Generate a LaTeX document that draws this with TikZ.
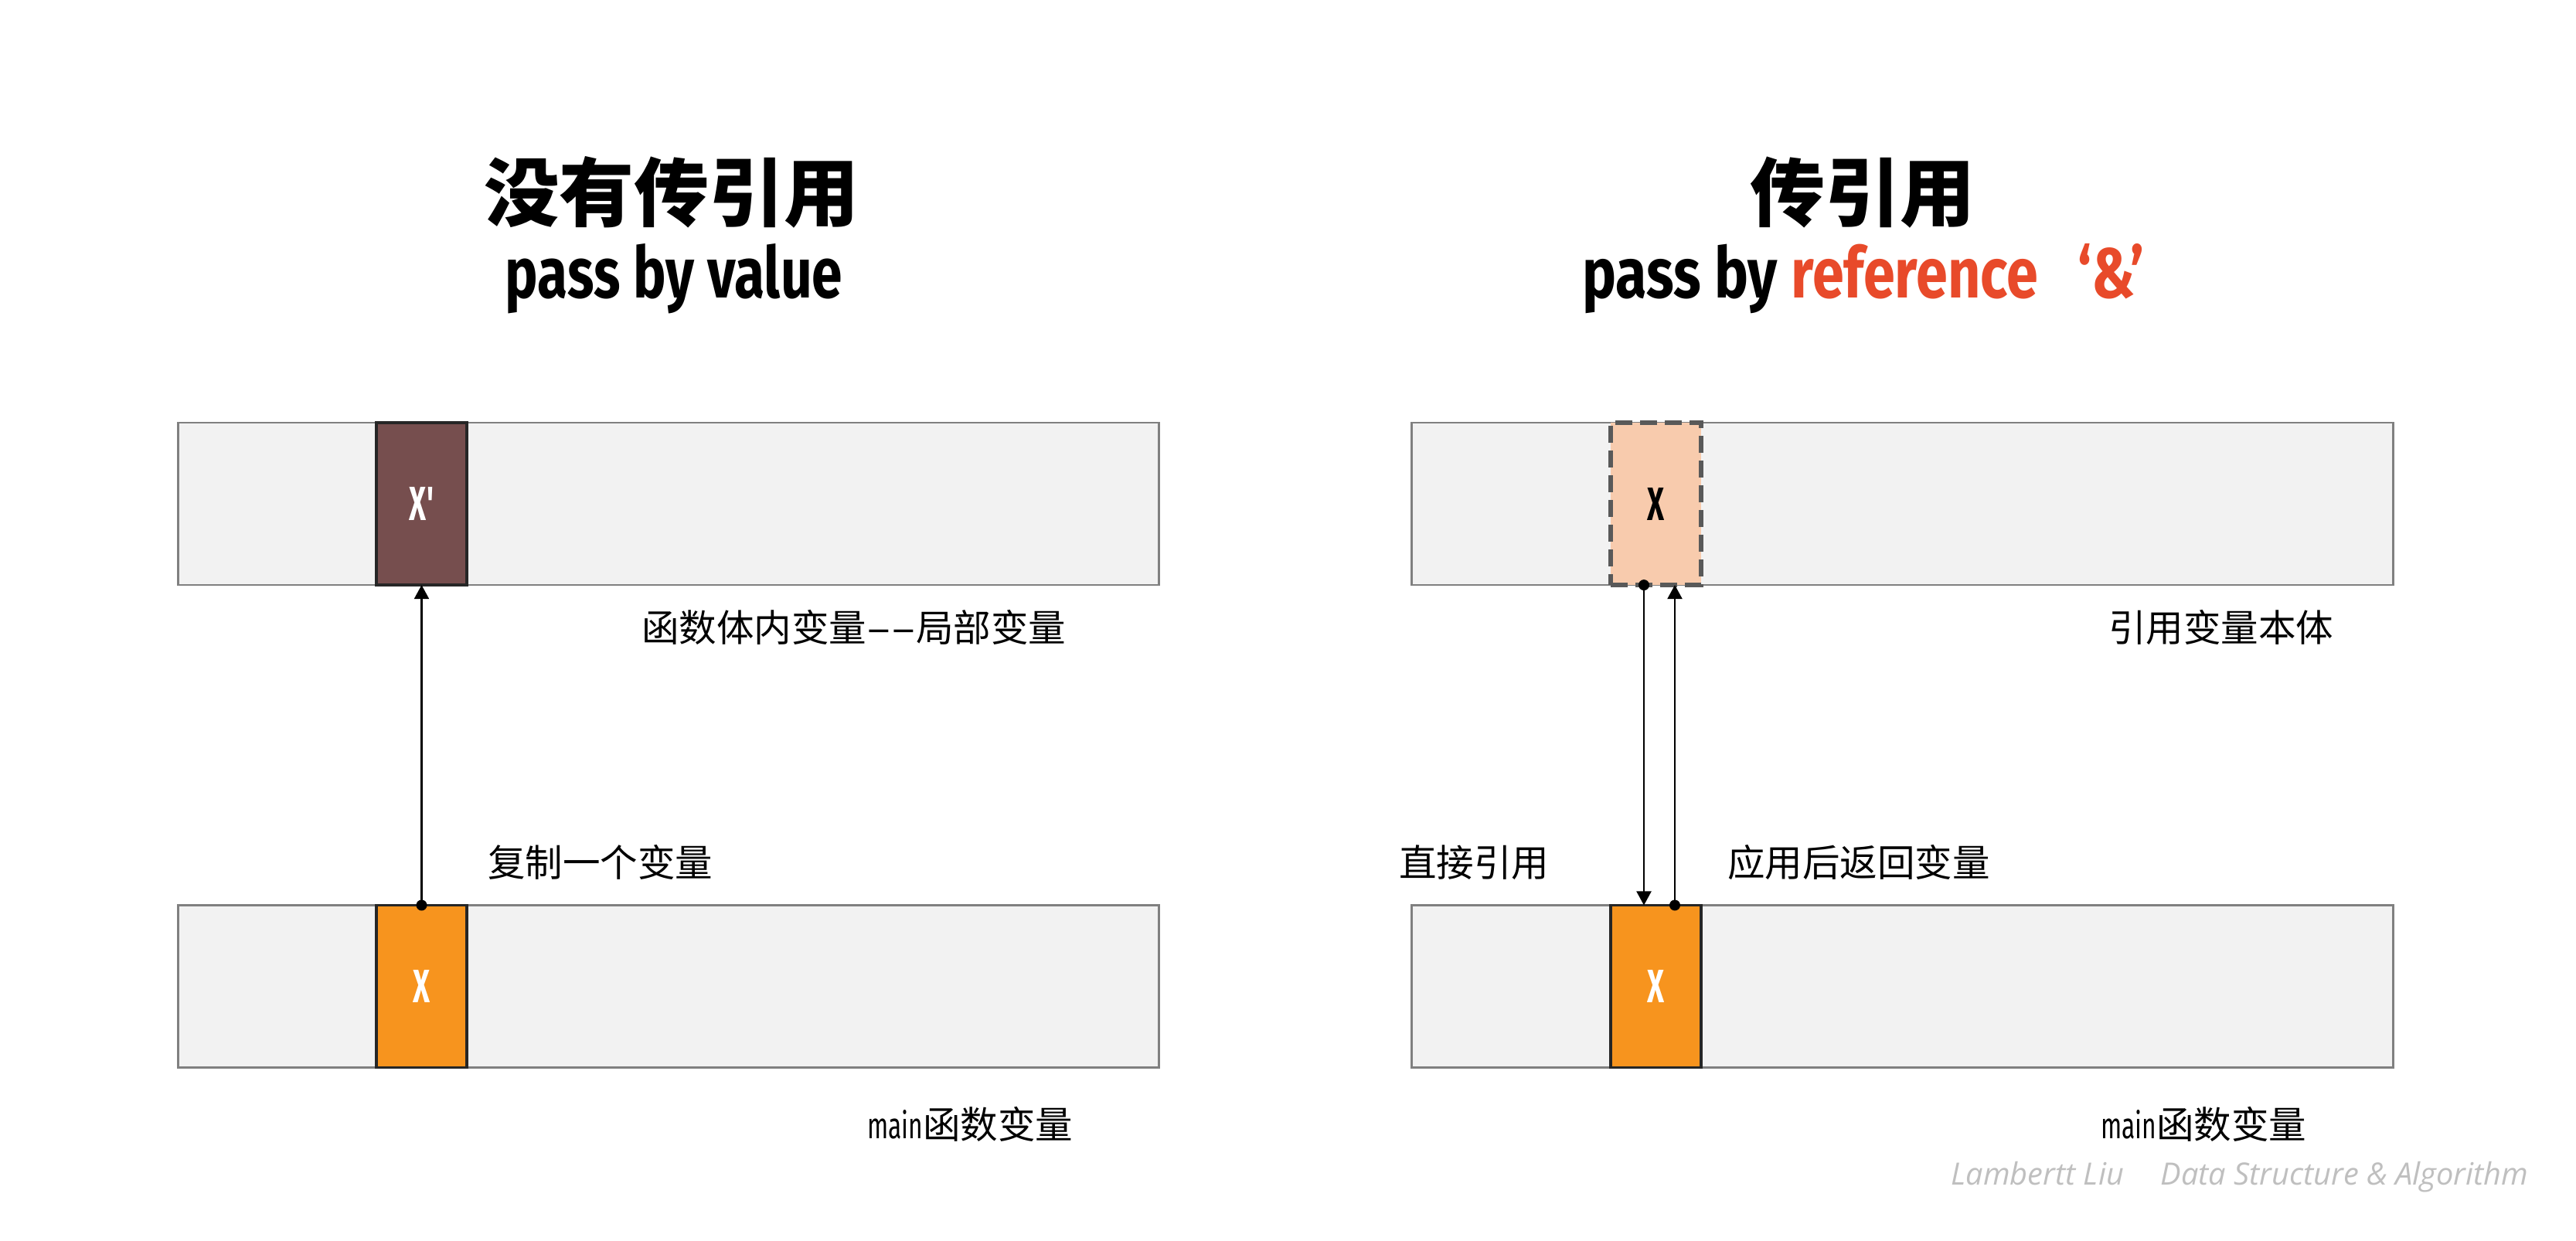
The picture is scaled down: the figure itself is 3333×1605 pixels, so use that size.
\documentclass[tikz,border=0pt]{standalone}
\usepackage{fontspec}
\usepackage{graphicx}
\usetikzlibrary{arrows.meta,calc}
\newfontfamily\cjk{Noto Sans CJK SC}
\newfontfamily\cond{Fira Sans}
\newfontfamily\wmfont{Open Sans}
\definecolor{barfill}{HTML}{F2F2F2}
\definecolor{barline}{HTML}{808080}
\definecolor{boxline}{HTML}{262626}
\definecolor{brownbox}{HTML}{764E4E}
\definecolor{orangebox}{HTML}{F7941E}
\definecolor{peachbox}{HTML}{F8CBAD}
\definecolor{dashgray}{HTML}{595959}
\definecolor{refred}{HTML}{E84A2A}
\definecolor{wmgray}{HTML}{BFBFBF}
\tikzset{
  bar/.style={draw=barline, fill=barfill, line width=0.8pt, inner sep=0pt, outer sep=0pt, minimum height=2.10cm},
  cell/.style={inner sep=0pt, outer sep=0pt, minimum width=1.17cm, minimum height=2.10cm},
  solidcell/.style={cell, draw=boxline, line width=1pt},
  dashcell/.style={cell, draw=dashgray, line width=1.5pt, dash pattern=on 0.22cm off 0.10cm, fill=peachbox},
  lbl/.style={inner sep=0pt, outer sep=0pt, anchor=west, font=\cjk\fontsize{13.8pt}{16pt}\selectfont},
  ttl/.style={inner sep=0pt, outer sep=0pt, font=\cjk\bfseries\fontsize{27.6pt}{30pt}\selectfont},
  arr/.style={line width=0.6pt, -{Triangle[length=0.18cm, width=0.19cm]}},
  dotc/.style={fill=black}
}
\newcommand{\mainword}{\resizebox{0.72cm}{0.37cm}{\cond main}}
\newcommand{\hy}{\makebox[0.32cm]{\scalebox{2.0}[1]{-}}}
\begin{document}
\begin{tikzpicture}[x=0.01cm, y=-0.01cm]
\useasboundingbox (0,0) rectangle (3333,1605);
\fill[white] (0,0) rectangle (3333,1605);

% titles
\node[ttl] (t1) at (869,249) {没有传引用};
\node[inner sep=0pt, anchor=base] (s1) at (872,385) {\resizebox{4.36cm}{0.70cm}{\cond\bfseries pass by value}};
\node[ttl] (t2) at (2410,249) {传引用};
\node[inner sep=0pt, anchor=base] (s2) at (2411,385) {\resizebox{7.27cm}{0.70cm}{\cond\bfseries pass by \textcolor{refred}{reference\hspace{0.7em}‘\&’}}};

% bars
\node[bar, minimum width=12.68cm] (lt) at (865,652) {};
\node[bar, minimum width=12.68cm] (lb) at (865,1276.5) {};
\node[bar, minimum width=12.69cm] (rt) at (2461.5,652) {};
\node[bar, minimum width=12.69cm] (rb) at (2461.5,1276.5) {};

% cells
\node[solidcell, fill=brownbox] (lx1) at (545.5,652) {\resizebox{0.31cm}{0.43cm}{\color{white}\cond\bfseries X'}};
\node[solidcell, fill=orangebox] (lx0) at (545.5,1276.5) {\resizebox{0.22cm}{0.42cm}{\color{white}\cond\bfseries X}};
\node[dashcell] (rx1) at (2142.5,652) {\resizebox{0.22cm}{0.42cm}{\color{black}\cond\bfseries X}};
\node[solidcell, fill=orangebox] (rx0) at (2142.5,1276.5) {\resizebox{0.22cm}{0.42cm}{\color{white}\cond\bfseries X}};

% arrows
\draw[arr] (lx0.north) -- (lx1.south);
\fill[dotc] (lx0.north) circle (7);

\coordinate (a1) at ($(rx1.south)+(-15.5,0)$);
\coordinate (b1) at ($(rx0.north)+(24.5,0)$);
\draw[arr] (a1) -- (a1 |- rx0.north);
\draw[arr] (b1) -- (b1 |- rx1.south);
\fill[dotc] (a1) circle (7);
\fill[dotc] (b1) circle (7);

% labels
\node[lbl] (l1) at (830,812) {函数体内变量\hy\hy 局部变量};
\node[lbl] (l2) at (631,1116) {复制一个变量};
\node[lbl] (l3) at (1122,1455) {\mainword 函数变量};
\node[lbl] (r1) at (2728,812) {引用变量本体};
\node[lbl] (r2) at (1810,1116) {直接引用};
\node[lbl] (r3) at (2235,1116) {应用后返回变量};
\node[lbl] (r4) at (2718,1455) {\mainword 函数变量};

% watermark
\node[inner sep=0pt, anchor=west] (wm) at (2524,1523) {\resizebox{7.46cm}{!}{\color{wmgray}\wmfont\itshape Lambertt Liu\hspace{1.2em}Data Structure \& Algorithm}};
\end{tikzpicture}
\end{document}
